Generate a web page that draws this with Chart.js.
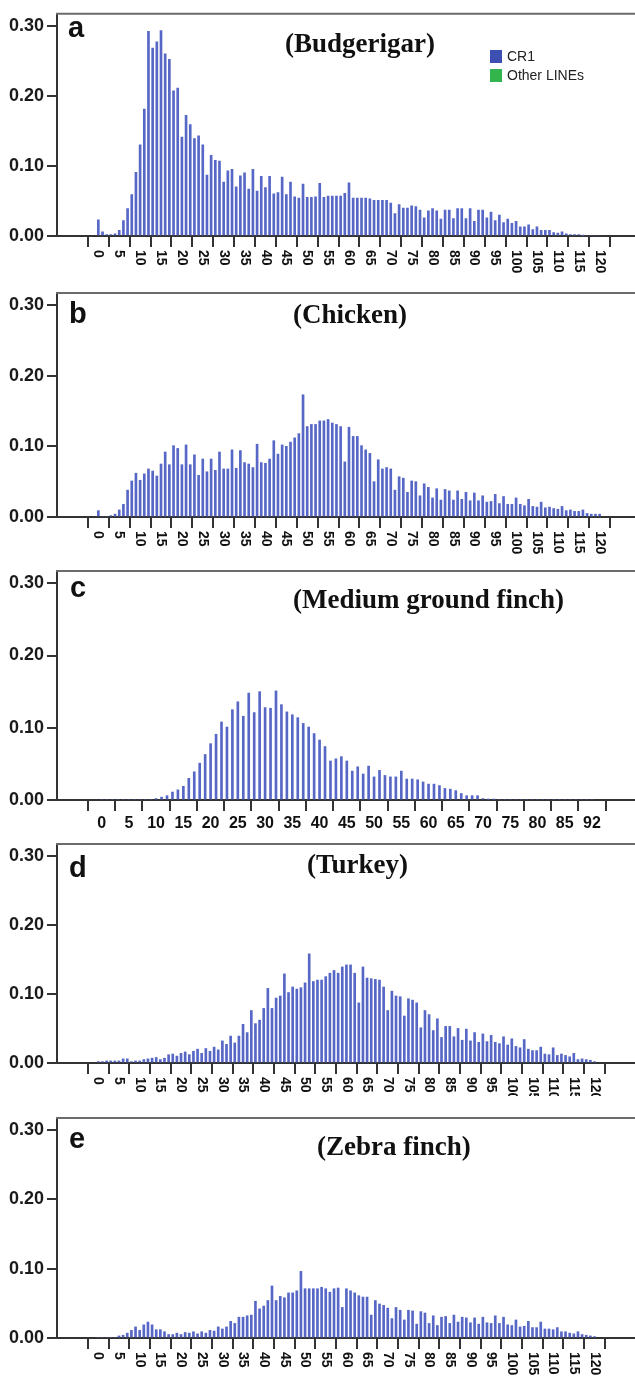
<!DOCTYPE html>
<html>
<head>
<meta charset="utf-8">
<title>CR1 length distribution</title>
<script src="https://cdn.jsdelivr.net/npm/chart.js@4.4.0/dist/chart.umd.min.js"></script>
<style>
  html, body { margin: 0; padding: 0; background: #fff; overflow: hidden; }
  #wrap { position: relative; width: 635px; height: 1380px; }
  #wrap canvas { position: absolute; left: 0; }
</style>
</head>
<body>
<div id="wrap">
  <canvas id="chartA" width="635" height="290" style="top:0px"></canvas>
  <canvas id="chartB" width="635" height="290" style="top:270px"></canvas>
  <canvas id="chartC" width="635" height="290" style="top:550px"></canvas>
  <canvas id="chartD" width="635" height="281" style="top:815px"></canvas>
  <canvas id="chartE" width="635" height="290" style="top:1090px"></canvas>
</div>
<script>
// ---- Dữ liệu ----
// chỉ số độ dài (bin) trên trục x
const lengthBins = Array.from({ length: 121 }, (_, i) => i);   // 0..120
const finchBins = Array.from({ length: 91 }, (_, i) => i);     // 0..90 (nhãn cuối là 92)

const xTickValues = [0, 5, 10, 15, 20, 25, 30, 35, 40, 45, 50, 55, 60, 65, 70, 75, 80, 85, 90, 95, 100, 105, 110, 115, 120];
const xTickLabels = ['0', '5', '10', '15', '20', '25', '30', '35', '40', '45', '50', '55', '60', '65', '70', '75', '80', '85', '90', '95', '100', '105', '110', '115', '120'];
const finchTickValues = [0, 5, 10, 15, 20, 25, 30, 35, 40, 45, 50, 55, 60, 65, 70, 75, 80, 85, 90];
const finchTickLabels = ['0', '5', '10', '15', '20', '25', '30', '35', '40', '45', '50', '55', '60', '65', '70', '75', '80', '85', '92'];
const yTickValues = [0, 0.1, 0.2, 0.3];

const legendLabels = ['CR1', 'Other LINEs'];

const budgerigarValues = [
  0.023, 0.006, 0.002, 0.002, 0.003, 0.008, 0.022, 0.039, 0.059, 0.091,
  0.130, 0.181, 0.292, 0.268, 0.277, 0.293, 0.260, 0.252, 0.207, 0.211,
  0.141, 0.172, 0.159, 0.139, 0.143, 0.130, 0.087, 0.115, 0.108, 0.107,
  0.077, 0.093, 0.095, 0.070, 0.086, 0.090, 0.067, 0.095, 0.064, 0.085,
  0.069, 0.085, 0.060, 0.062, 0.084, 0.059, 0.077, 0.056, 0.054, 0.074,
  0.055, 0.055, 0.056, 0.075, 0.055, 0.057, 0.057, 0.057, 0.057, 0.061,
  0.076, 0.054, 0.054, 0.054, 0.054, 0.053, 0.051, 0.051, 0.051, 0.051,
  0.047, 0.032, 0.045, 0.040, 0.040, 0.043, 0.042, 0.037, 0.026, 0.036,
  0.039, 0.036, 0.024, 0.037, 0.037, 0.025, 0.039, 0.039, 0.025, 0.039,
  0.021, 0.037, 0.037, 0.026, 0.034, 0.022, 0.030, 0.019, 0.024, 0.018,
  0.021, 0.013, 0.013, 0.016, 0.009, 0.013, 0.008, 0.008, 0.008, 0.005,
  0.004, 0.006, 0.003, 0.002, 0.002, 0.002, 0.001, 0, 0, 0,
  0
];

const chickenValues = [
  0.009, 0, 0, 0.002, 0.004, 0.010, 0.018, 0.038, 0.051, 0.062,
  0.052, 0.061, 0.068, 0.065, 0.058, 0.075, 0.092, 0.074, 0.101, 0.097,
  0.074, 0.102, 0.074, 0.088, 0.059, 0.082, 0.064, 0.082, 0.066, 0.092,
  0.068, 0.068, 0.095, 0.069, 0.094, 0.077, 0.075, 0.070, 0.103, 0.077,
  0.076, 0.082, 0.108, 0.089, 0.102, 0.100, 0.106, 0.112, 0.118, 0.173,
  0.128, 0.131, 0.131, 0.136, 0.136, 0.138, 0.133, 0.131, 0.128, 0.078,
  0.127, 0.114, 0.114, 0.101, 0.095, 0.090, 0.050, 0.081, 0.068, 0.070,
  0.068, 0.038, 0.057, 0.055, 0.035, 0.051, 0.050, 0.030, 0.047, 0.042,
  0.027, 0.040, 0.024, 0.039, 0.037, 0.024, 0.037, 0.025, 0.035, 0.023,
  0.034, 0.023, 0.030, 0.021, 0.022, 0.032, 0.019, 0.029, 0.018, 0.018,
  0.027, 0.018, 0.016, 0.025, 0.015, 0.014, 0.021, 0.013, 0.014, 0.012,
  0.011, 0.015, 0.009, 0.010, 0.008, 0.008, 0.010, 0.005, 0.004, 0.004,
  0.004
];

const groundFinchValues = [
  0, 0, 0, 0, 0, 0, 0, 0, 0, 0,
  0.002, 0.004, 0.006, 0.011, 0.014, 0.019, 0.030, 0.039, 0.051, 0.063,
  0.078, 0.091, 0.108, 0.101, 0.125, 0.136, 0.116, 0.148, 0.121, 0.150,
  0.128, 0.127, 0.151, 0.132, 0.122, 0.118, 0.114, 0.106, 0.101, 0.092,
  0.083, 0.074, 0.054, 0.057, 0.060, 0.054, 0.040, 0.046, 0.036, 0.047,
  0.032, 0.041, 0.034, 0.032, 0.032, 0.040, 0.029, 0.029, 0.028, 0.025,
  0.022, 0.022, 0.020, 0.016, 0.015, 0.013, 0.009, 0.006, 0.006, 0.006,
  0.002, 0.001, 0.001, 0, 0, 0, 0, 0, 0, 0,
  0, 0, 0, 0, 0, 0, 0, 0, 0, 0,
  0
];

const turkeyValues = [
  0.002, 0.002, 0.003, 0.003, 0.003, 0.003, 0.006, 0.006, 0.002, 0.003,
  0.003, 0.005, 0.006, 0.007, 0.008, 0.005, 0.007, 0.012, 0.013, 0.010,
  0.014, 0.016, 0.012, 0.017, 0.020, 0.014, 0.021, 0.017, 0.023, 0.019,
  0.032, 0.027, 0.039, 0.029, 0.039, 0.056, 0.044, 0.076, 0.057, 0.062,
  0.079, 0.108, 0.079, 0.094, 0.097, 0.129, 0.102, 0.110, 0.107, 0.109,
  0.116, 0.158, 0.118, 0.120, 0.120, 0.125, 0.130, 0.134, 0.130, 0.139,
  0.142, 0.142, 0.130, 0.087, 0.139, 0.123, 0.122, 0.121, 0.120, 0.110,
  0.076, 0.104, 0.097, 0.096, 0.068, 0.093, 0.091, 0.087, 0.051, 0.076,
  0.070, 0.047, 0.064, 0.037, 0.053, 0.053, 0.038, 0.050, 0.033, 0.049,
  0.032, 0.044, 0.030, 0.042, 0.031, 0.040, 0.030, 0.028, 0.038, 0.026,
  0.035, 0.024, 0.022, 0.034, 0.020, 0.018, 0.018, 0.023, 0.013, 0.012,
  0.022, 0.011, 0.013, 0.011, 0.009, 0.014, 0.005, 0.006, 0.005, 0.004,
  0.002
];

const zebraFinchValues = [
  0, 0, 0, 0, 0, 0.003, 0.004, 0.007, 0.011, 0.016,
  0.011, 0.019, 0.023, 0.019, 0.012, 0.012, 0.009, 0.005, 0.005, 0.007,
  0.005, 0.008, 0.007, 0.009, 0.006, 0.009, 0.007, 0.011, 0.010, 0.016,
  0.013, 0.016, 0.024, 0.021, 0.030, 0.030, 0.032, 0.033, 0.053, 0.042,
  0.046, 0.054, 0.075, 0.054, 0.060, 0.058, 0.065, 0.065, 0.068, 0.096,
  0.071, 0.071, 0.071, 0.071, 0.073, 0.071, 0.066, 0.071, 0.072, 0.044,
  0.071, 0.068, 0.065, 0.061, 0.059, 0.059, 0.033, 0.054, 0.049, 0.047,
  0.043, 0.028, 0.044, 0.040, 0.026, 0.040, 0.039, 0.020, 0.038, 0.036,
  0.021, 0.032, 0.018, 0.030, 0.031, 0.021, 0.033, 0.023, 0.030, 0.029,
  0.022, 0.029, 0.020, 0.030, 0.022, 0.021, 0.032, 0.021, 0.030, 0.019,
  0.018, 0.026, 0.016, 0.017, 0.024, 0.015, 0.015, 0.023, 0.013, 0.013,
  0.012, 0.015, 0.009, 0.009, 0.007, 0.006, 0.009, 0.005, 0.004, 0.003,
  0.002
];

// ---- Cấu hình từng panel (vị trí, kiểu dáng) ----
const BAR_COLOR = '#5767c6';
const SANS = '"Liberation Sans", Arial, sans-serif';
const SERIF = '"Liberation Serif", "Times New Roman", serif';

const panels = [
  { canvas: 'chartA', bins: lengthBins, values: budgerigarValues, letter: 'a', letterPos: [68, 37],
    title: '(Budgerigar)', titlePos: [285, 52], ticks: xTickValues, labels: xTickLabels, rotated: true,
    xMin: -7.13, xMax: 125.7, padTop: 11, axisY: 236, legend: true },
  { canvas: 'chartB', bins: lengthBins, values: chickenValues, letter: 'b', letterPos: [69, 53],
    title: '(Chicken)', titlePos: [293, 53], ticks: xTickValues, labels: xTickLabels, rotated: true,
    xMin: -7.13, xMax: 125.7, padTop: 23, axisY: 247 },
  { canvas: 'chartC', bins: finchBins, values: groundFinchValues, letter: 'c', letterPos: [70, 47],
    title: '(Medium ground finch)', titlePos: [293, 58], ticks: finchTickValues, labels: finchTickLabels, rotated: false,
    xMin: -5.4, xMax: 95.1, padTop: 21, axisY: 250 },
  { canvas: 'chartD', bins: lengthBins, values: turkeyValues, letter: 'd', letterPos: [69, 62],
    title: '(Turkey)', titlePos: [307, 58], ticks: xTickValues, labels: xTickLabels, rotated: true,
    xMin: -7.2, xMax: 127, padTop: 29, axisY: 248 },
  { canvas: 'chartE', bins: lengthBins, values: zebraFinchValues, letter: 'e', letterPos: [69, 58],
    title: '(Zebra finch)', titlePos: [317, 65], ticks: xTickValues, labels: xTickLabels, rotated: true,
    xMin: -7.2, xMax: 127, padTop: 28, axisY: 248 }
];

// Plugin vẽ khung trên, chữ cái panel, tiêu đề, nhãn trục x và chú thích
function makeDecor(p) {
  return {
    id: 'decor_' + p.letter,
    afterDraw(chart) {
      const ctx = chart.ctx;
      const area = chart.chartArea;
      const xScale = chart.scales.x;
      ctx.save();

      // đường viền trên của khung
      ctx.strokeStyle = '#6b6b6b';
      ctx.lineWidth = 2;
      ctx.beginPath();
      ctx.moveTo(area.left - 1, area.top);
      ctx.lineTo(chart.width, area.top);
      ctx.stroke();

      ctx.fillStyle = '#111';
      ctx.textBaseline = 'alphabetic';
      ctx.textAlign = 'left';
      ctx.font = 'bold 29px ' + SANS;
      ctx.fillText(p.letter, p.letterPos[0], p.letterPos[1]);

      ctx.font = 'bold 27px ' + SERIF;
      ctx.fillText(p.title, p.titlePos[0], p.titlePos[1]);

      // nhãn trục x
      p.labels.forEach((label, i) => {
        const x = xScale.getPixelForValue(p.ticks[i]);
        if (p.rotated) {
          ctx.font = 'bold 14px ' + SANS;
          ctx.save();
          ctx.translate(x, area.bottom + 14);
          ctx.rotate(Math.PI / 2);
          ctx.textAlign = 'left';
          ctx.textBaseline = 'middle';
          ctx.fillText(label, 0, 0);
          ctx.restore();
        } else {
          ctx.font = 'bold 16px ' + SANS;
          ctx.textAlign = 'center';
          ctx.textBaseline = 'middle';
          ctx.fillText(label, x, area.bottom + 24);
        }
      });

      if (p.legend) {
        const colors = ['#3d4fb2', '#33b44c'];
        ctx.font = '14px ' + SANS;
        ctx.textAlign = 'left';
        ctx.textBaseline = 'middle';
        legendLabels.forEach((lab, i) => {
          const y = 50 + i * 19;
          ctx.fillStyle = colors[i];
          ctx.fillRect(490, y, 12, 13);
          ctx.fillStyle = '#222';
          ctx.fillText(lab, 507, y + 7);
        });
      }
      ctx.restore();
    }
  };
}

function renderPanel(p) {
  const canvas = document.getElementById(p.canvas);
  const xAxisHeight = canvas.height - p.axisY;

  new Chart(canvas.getContext('2d'), {
    type: 'bar',
    data: {
      datasets: [{
        label: 'CR1',
        data: p.bins.map((b, i) => ({ x: b, y: p.values[i] })),
        backgroundColor: BAR_COLOR,
        barThickness: 2,
        borderWidth: 0
      }]
    },
    options: {
      responsive: false,
      animation: false,
      layout: { padding: { top: p.padTop, left: 0, right: 0, bottom: 0 } },
      plugins: { legend: { display: false }, tooltip: { enabled: false } },
      scales: {
        x: {
          type: 'linear',
          min: p.xMin,
          max: p.xMax,
          afterBuildTicks: (scale) => { scale.ticks = p.ticks.map(v => ({ value: v })); },
          afterFit: (scale) => { scale.height = xAxisHeight; },
          ticks: { display: false },
          grid: { drawOnChartArea: false, drawTicks: true, tickLength: 11, color: '#333', lineWidth: 2 },
          border: { color: '#333', width: 2 }
        },
        y: {
          min: 0,
          max: 0.317,
          afterBuildTicks: (scale) => { scale.ticks = yTickValues.map(v => ({ value: v })); },
          afterFit: (scale) => { scale.width = 57; },
          ticks: {
            callback: (v) => v.toFixed(2),
            font: { family: SANS, size: 18, weight: 'bold' },
            color: '#1a1a1a',
            padding: 3
          },
          grid: { drawOnChartArea: false, drawTicks: true, tickLength: 10, color: '#333', lineWidth: 2 },
          border: { color: '#333', width: 2 }
        }
      }
    },
    plugins: [makeDecor(p)]
  });
}

document.addEventListener('DOMContentLoaded', () => {
  panels.forEach(renderPanel);
});
</script>
</body>
</html>
